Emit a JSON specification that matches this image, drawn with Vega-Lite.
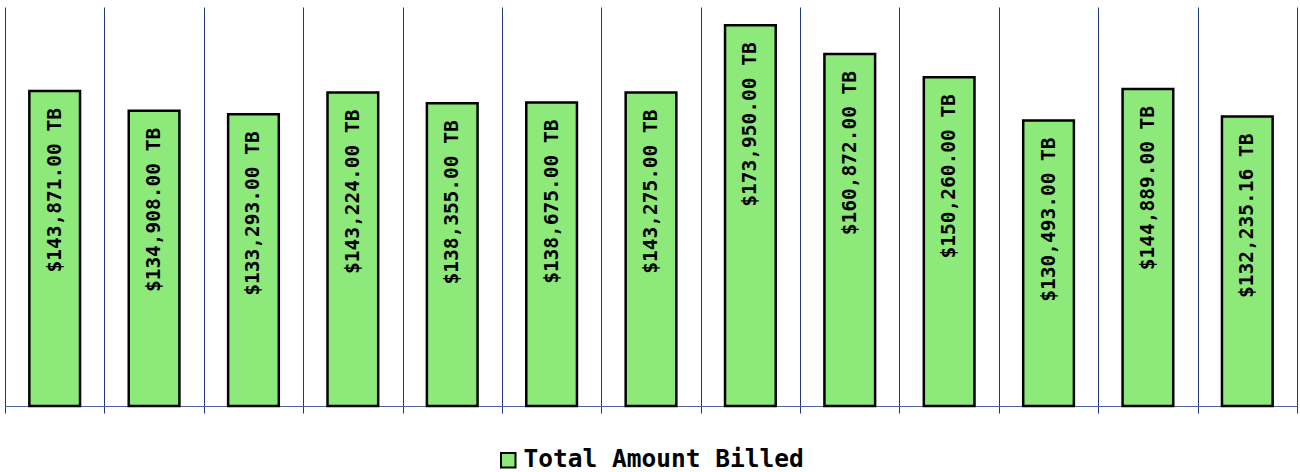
{
  "$schema": "https://vega.github.io/schema/vega-lite/v6.json",
  "width": 1292,
  "height": 399,
  "autosize": "none",
  "padding": {"left": 5, "top": 7, "right": 3, "bottom": 66},
  "background": "white",
  "config": {"view": {"stroke": null}},
  "data": {
    "values": [
      {"period": "01", "series": "Total Amount Billed", "amount": 143871, "label": "$143,871.00 TB"},
      {"period": "02", "series": "Total Amount Billed", "amount": 134908, "label": "$134,908.00 TB"},
      {"period": "03", "series": "Total Amount Billed", "amount": 133293, "label": "$133,293.00 TB"},
      {"period": "04", "series": "Total Amount Billed", "amount": 143224, "label": "$143,224.00 TB"},
      {"period": "05", "series": "Total Amount Billed", "amount": 138355, "label": "$138,355.00 TB"},
      {"period": "06", "series": "Total Amount Billed", "amount": 138675, "label": "$138,675.00 TB"},
      {"period": "07", "series": "Total Amount Billed", "amount": 143275, "label": "$143,275.00 TB"},
      {"period": "08", "series": "Total Amount Billed", "amount": 173950, "label": "$173,950.00 TB"},
      {"period": "09", "series": "Total Amount Billed", "amount": 160872, "label": "$160,872.00 TB"},
      {"period": "10", "series": "Total Amount Billed", "amount": 150260, "label": "$150,260.00 TB"},
      {"period": "11", "series": "Total Amount Billed", "amount": 130493, "label": "$130,493.00 TB"},
      {"period": "12", "series": "Total Amount Billed", "amount": 144889, "label": "$144,889.00 TB"},
      {"period": "13", "series": "Total Amount Billed", "amount": 132235.16, "label": "$132,235.16 TB"}
    ]
  },
  "encoding": {
    "x": {
      "field": "period",
      "type": "nominal",
      "sort": null,
      "scale": {"paddingInner": 0, "paddingOuter": 0},
      "axis": {
        "title": null,
        "labels": false,
        "tickBand": "extent",
        "grid": true,
        "gridColor": "#22367e",
        "gridWidth": 1,
        "gridOpacity": 1,
        "ticks": true,
        "tickSize": 7,
        "tickColor": "#22367e",
        "domainColor": "#4a62a0",
        "domainWidth": 1
      }
    },
    "y": {
      "field": "amount",
      "type": "quantitative",
      "scale": {"domain": [0, 182300], "nice": false, "zero": true},
      "axis": null
    }
  },
  "layer": [
    {
      "mark": {"type": "bar", "width": {"band": 0.51}, "stroke": "black", "strokeWidth": 2.5},
      "encoding": {
        "color": {
          "field": "series",
          "type": "nominal",
          "scale": {"range": ["#8ee97b"]},
          "legend": {
            "title": null,
            "orient": "none",
            "legendX": 491,
            "legendY": 441,
            "direction": "horizontal",
            "symbolType": "square",
            "symbolSize": 210,
            "symbolStrokeColor": "black",
            "symbolStrokeWidth": 2,
            "symbolOpacity": 1,
            "labelFont": "DejaVu Sans Mono",
            "labelFontWeight": "bold",
            "labelFontSize": 24.5,
            "labelColor": "black",
            "labelLimit": 500,
            "labelOffset": 3
          }
        }
      }
    },
    {
      "mark": {
        "type": "text",
        "angle": 270,
        "align": "right",
        "baseline": "middle",
        "dx": -17,
        "font": "DejaVu Sans Mono",
        "fontWeight": "bold",
        "fontSize": 19.5,
        "color": "black"
      },
      "encoding": {
        "text": {"field": "label", "type": "nominal"}
      }
    }
  ]
}
